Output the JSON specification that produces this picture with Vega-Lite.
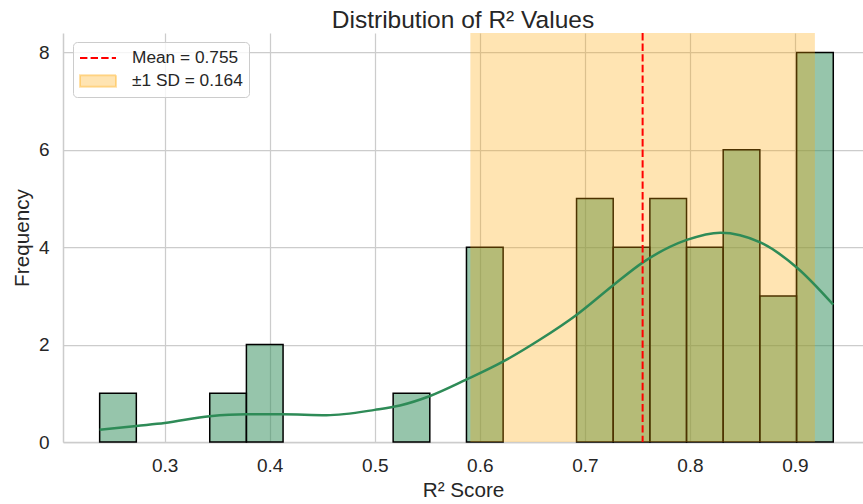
{
  "$schema": "https://vega.github.io/schema/vega-lite/v6.json",
  "width": 800,
  "height": 409,
  "autosize": {"type": "none"},
  "padding": {"left": 63, "top": 33, "right": 0, "bottom": 62},
  "title": {
    "text": "Distribution of R² Values",
    "anchor": "middle",
    "frame": "group",
    "baseline": "bottom",
    "offset": 3,
    "dy": 28,
    "fontSize": 24.5,
    "fontWeight": "normal",
    "font": "Liberation Sans",
    "color": "#262626"
  },
  "datasets": {
    "bins": [
      {"start": 0.2381, "end": 0.2730, "count": 1},
      {"start": 0.3429, "end": 0.3778, "count": 1},
      {"start": 0.3778, "end": 0.4127, "count": 2},
      {"start": 0.5175, "end": 0.5524, "count": 1},
      {"start": 0.5873, "end": 0.6222, "count": 4},
      {"start": 0.6921, "end": 0.7270, "count": 5},
      {"start": 0.7270, "end": 0.7619, "count": 4},
      {"start": 0.7619, "end": 0.7968, "count": 5},
      {"start": 0.7968, "end": 0.8317, "count": 4},
      {"start": 0.8317, "end": 0.8666, "count": 6},
      {"start": 0.8666, "end": 0.9016, "count": 3},
      {"start": 0.9016, "end": 0.9365, "count": 8}
    ],
    "kde": [
      {"r2": 0.2381, "density": 0.25},
      {"r2": 0.273, "density": 0.33},
      {"r2": 0.300, "density": 0.39},
      {"r2": 0.343, "density": 0.53},
      {"r2": 0.378, "density": 0.57},
      {"r2": 0.412, "density": 0.57},
      {"r2": 0.454, "density": 0.55},
      {"r2": 0.500, "density": 0.66},
      {"r2": 0.524, "density": 0.75},
      {"r2": 0.552, "density": 0.94},
      {"r2": 0.587, "density": 1.28},
      {"r2": 0.622, "density": 1.65},
      {"r2": 0.657, "density": 2.10},
      {"r2": 0.692, "density": 2.61},
      {"r2": 0.727, "density": 3.22},
      {"r2": 0.756, "density": 3.70},
      {"r2": 0.797, "density": 4.15},
      {"r2": 0.829, "density": 4.30},
      {"r2": 0.867, "density": 4.10},
      {"r2": 0.902, "density": 3.58},
      {"r2": 0.9365, "density": 2.82}
    ],
    "band": [
      {"label": "±1 SD = 0.164", "lo": 0.591, "hi": 0.919}
    ],
    "mean": [
      {"label": "Mean = 0.755", "value": 0.755}
    ]
  },
  "layer": [
    {
      "data": {"name": "bins"},
      "mark": {"type": "rect", "fill": "#2e8b57", "fillOpacity": 0.5, "stroke": "#000000", "strokeWidth": 1.5},
      "encoding": {
        "x": {
          "field": "start",
          "type": "quantitative",
          "scale": {"domain": [0.2032, 0.9648], "nice": false, "zero": false},
          "axis": {
            "title": "R² Score",
            "values": [0.3, 0.4, 0.5, 0.6, 0.7, 0.8, 0.9],
            "format": ".1f",
            "labelPadding": 14,
            "titlePadding": 5
          }
        },
        "x2": {"field": "end"},
        "y": {
          "field": "count",
          "type": "quantitative",
          "scale": {"domain": [0, 8.4], "nice": false},
          "axis": {
            "title": "Frequency",
            "values": [0, 2, 4, 6, 8],
            "labelPadding": 14,
            "titlePadding": 6
          }
        },
        "y2": {"datum": 0}
      }
    },
    {
      "data": {"name": "band"},
      "mark": {"type": "rect", "fillOpacity": 0.3},
      "encoding": {
        "x": {"field": "lo", "type": "quantitative"},
        "x2": {"field": "hi"},
        "color": {
          "field": "label",
          "type": "nominal",
          "scale": {"domain": ["Mean = 0.755", "±1 SD = 0.164"], "range": ["#ff0000", "#ffa500"]},
          "legend": {
            "title": null,
            "orient": "none",
            "legendX": 10,
            "legendY": 9,
            "padding": 6,
            "fillColor": "rgba(255,255,255,0.8)",
            "strokeColor": "#cccccc",
            "cornerRadius": 4,
            "labelFont": "Liberation Sans",
            "labelFontSize": 17.3,
            "labelColor": "#262626",
            "symbolSize": 324,
            "labelOffset": 33,
            "rowPadding": 4,
            "encode": {
              "symbols": {
                "update": {
                  "shape": {"signal": "datum.value === 'Mean = 0.755' ? 'M-1,0H3' : 'M-1,-0.65H3V0.65H-1Z'"},
                  "fill": {"signal": "datum.value === 'Mean = 0.755' ? 'transparent' : '#ffa500'"},
                  "fillOpacity": {"signal": "datum.value === 'Mean = 0.755' ? 0 : 0.3"},
                  "stroke": {"signal": "datum.value === 'Mean = 0.755' ? '#ff0000' : '#ffa500'"},
                  "strokeOpacity": {"signal": "datum.value === 'Mean = 0.755' ? 1 : 0.35"},
                  "strokeDash": {"signal": "datum.value === 'Mean = 0.755' ? [7.4, 3.2] : [1, 0]"},
                  "strokeWidth": {"value": 2},
                  "opacity": {"value": 1}
                }
              }
            }
          }
        }
      }
    },
    {
      "data": {"name": "kde"},
      "mark": {"type": "line", "color": "#2e8b57", "strokeWidth": 2.5, "interpolate": "monotone"},
      "encoding": {
        "x": {"field": "r2", "type": "quantitative"},
        "y": {"field": "density", "type": "quantitative"}
      }
    },
    {
      "data": {"name": "mean"},
      "mark": {"type": "rule", "strokeWidth": 2, "strokeDash": [7.4, 3.2]},
      "encoding": {
        "x": {"field": "value", "type": "quantitative"},
        "color": {"field": "label", "type": "nominal"}
      }
    }
  ],
  "config": {
    "view": {"stroke": null},
    "font": "Liberation Sans",
    "axis": {
      "domainColor": "#cccccc",
      "domainWidth": 1.5,
      "gridColor": "#cccccc",
      "gridWidth": 1.25,
      "grid": true,
      "ticks": false,
      "labelFont": "Liberation Sans",
      "labelFontSize": 19,
      "labelColor": "#262626",
      "titleFont": "Liberation Sans",
      "titleFontSize": 20.7,
      "titleFontWeight": "normal",
      "titleColor": "#262626"
    }
  }
}
